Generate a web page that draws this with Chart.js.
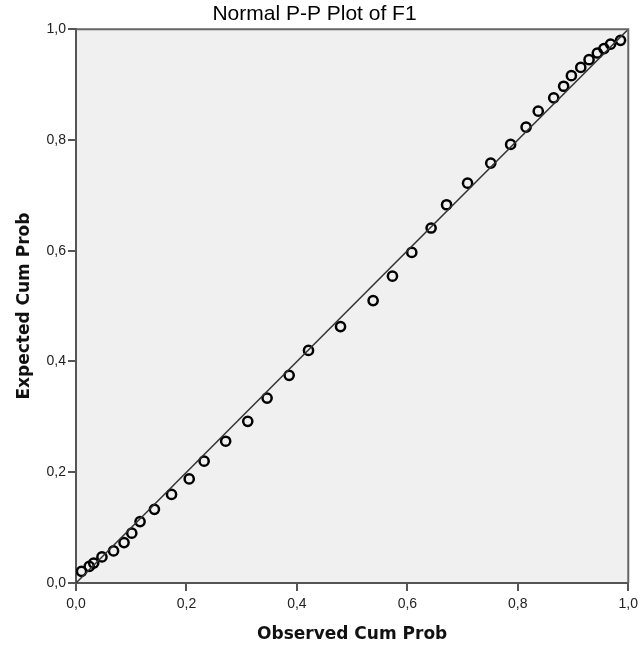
<!DOCTYPE html>
<html>
<head>
<meta charset="utf-8">
<title>Normal P-P Plot of F1</title>
<script src="https://cdn.jsdelivr.net/npm/chart.js@4.4.0/dist/chart.umd.min.js"></script>
<style>
	body { margin: 0; background: #ffffff; }
	canvas { display: block; }
</style>
</head>
<body>
<canvas id="ppPlot" width="643" height="654"></canvas>
<script>
// observed cumulative probability (x) and expected cumulative probability (y)
var observed = [0.010, 0.024, 0.032, 0.047, 0.068, 0.087, 0.101, 0.116, 0.142, 0.173,
	0.205, 0.232, 0.271, 0.311, 0.346, 0.386, 0.421, 0.479, 0.538, 0.573,
	0.608, 0.643, 0.671, 0.709, 0.751, 0.787, 0.815, 0.837, 0.865, 0.883,
	0.897, 0.914, 0.929, 0.944, 0.956, 0.968, 0.986]
var expected = [0.021, 0.030, 0.036, 0.047, 0.058, 0.073, 0.090, 0.111, 0.133, 0.160,
	0.188, 0.220, 0.256, 0.292, 0.334, 0.375, 0.420, 0.463, 0.510, 0.554,
	0.597, 0.641, 0.683, 0.722, 0.758, 0.792, 0.823, 0.852, 0.876, 0.897,
	0.916, 0.931, 0.945, 0.957, 0.965, 0.973, 0.980]
var diagonal = [0, 1]
var tickValues = [0, 0.2, 0.4, 0.6, 0.8, 1.0]

window.onload = function()
{
	var points = []
	for(var i = 0; i < observed.length; i++)
		points.push({x: observed[i], y: expected[i]})

	var line = []
	for(var j = 0; j < diagonal.length; j++)
		line.push({x: diagonal[j], y: diagonal[j]})

	// grey plot area and the top/right frame lines
	var plotFrame = {
		id: 'plotFrame',
		beforeDraw: function(chart)
		{
			var a = chart.chartArea
			var ctx = chart.ctx
			ctx.save()
			ctx.fillStyle = '#f0f0f0'
			ctx.fillRect(a.left, a.top, a.right - a.left, a.bottom - a.top)
			ctx.restore()
		},
		afterDraw: function(chart)
		{
			var a = chart.chartArea
			var ctx = chart.ctx
			ctx.save()
			ctx.strokeStyle = '#666666'
			ctx.lineWidth = 2
			ctx.beginPath()
			ctx.moveTo(a.left, a.top)
			ctx.lineTo(a.right, a.top)
			ctx.lineTo(a.right, a.bottom)
			ctx.stroke()
			ctx.restore()
		}
	}

	var ctx = document.getElementById('ppPlot')
	var ppPlot = new Chart(ctx, {
		type: 'scatter',
		data: {
			datasets: [
			{
				type: 'line',
				data: line,
				borderColor: '#333333',
				borderWidth: 1.5,
				pointRadius: 0,
				fill: false
			},
			{
				data: points,
				pointRadius: 4.6,
				pointBorderWidth: 2.5,
				borderColor: '#000000',
				backgroundColor: 'rgba(0, 0, 0, 0)',
				pointHoverRadius: 4.6
			}]
		},
		options: {
			responsive: false,
			animation: false,
			layout:
			{
				padding: {left: 0, right: 14, top: 0, bottom: 0}
			},
			plugins:
			{
				legend:
				{
					display: false
				},
				tooltip:
				{
					enabled: false
				},
				title:
				{
					display: true,
					text: 'Normal P-P Plot of F1',
					color: '#000000',
					font: {family: "'Liberation Sans', Arial, sans-serif", size: 21, weight: 'normal', lineHeight: 1.2},
					padding: {top: 2, bottom: 2}
				}
			},
			scales: {
				x:
				{
					type: 'linear',
					min: 0,
					max: 1,
					afterBuildTicks: function(scale)
					{
						scale.ticks = tickValues.map(function(v){ return {value: v} })
					},
					afterFit: function(scale)
					{
						scale.height = 71
					},
					ticks:
					{
						color: '#222222',
						padding: 5,
						maxRotation: 0,
						font: {family: "'Liberation Sans', Arial, sans-serif", size: 14},
						callback: function(v){ return v.toFixed(1).replace('.', ',') }
					},
					grid:
					{
						drawOnChartArea: false,
						drawTicks: true,
						tickLength: 8,
						color: '#555555',
						lineWidth: 2
					},
					border:
					{
						display: true,
						color: '#555555',
						width: 2
					},
					title:
					{
						display: true,
						text: 'Observed Cum Prob',
						color: '#111111',
						font: {family: "'DejaVu Sans', Verdana, sans-serif", size: 17, weight: 'bold', lineHeight: 1.2},
						padding: {top: 0, bottom: 9}
					}
				},
				y:
				{
					type: 'linear',
					min: 0,
					max: 1,
					afterBuildTicks: function(scale)
					{
						scale.ticks = tickValues.map(function(v){ return {value: v} })
					},
					afterFit: function(scale)
					{
						scale.width = 76
					},
					ticks:
					{
						color: '#222222',
						padding: 2,
						font: {family: "'Liberation Sans', Arial, sans-serif", size: 14},
						callback: function(v){ return v.toFixed(1).replace('.', ',') }
					},
					grid:
					{
						drawOnChartArea: false,
						drawTicks: true,
						tickLength: 8,
						color: '#555555',
						lineWidth: 2
					},
					border:
					{
						display: true,
						color: '#555555',
						width: 2
					},
					title:
					{
						display: true,
						text: 'Expected Cum Prob',
						color: '#111111',
						font: {family: "'DejaVu Sans', Verdana, sans-serif", size: 17, weight: 'bold', lineHeight: 1.2},
						padding: {top: 14, bottom: 0}
					}
				}
			}
		},
		plugins: [plotFrame]
	})
}
</script>
</body>
</html>
